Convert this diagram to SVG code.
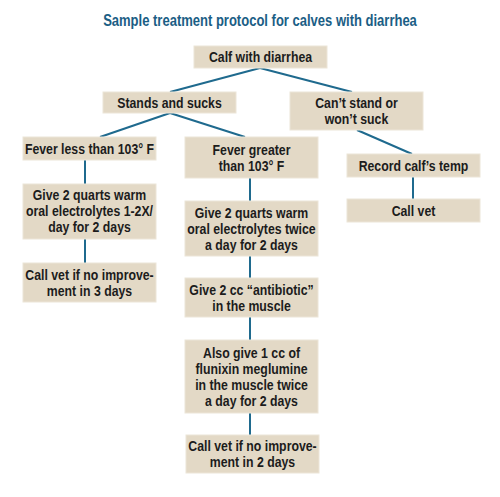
<svg xmlns="http://www.w3.org/2000/svg" width="500" height="497" viewBox="0 0 500 497">
<style>
.bg{fill:#ffffff}
.box{fill:#e3d9c6;stroke:#ece5d8;stroke-width:1}
.t{font-family:"Liberation Sans",Arial,sans-serif;font-weight:bold;font-size:15px;fill:#1c1c1c;text-anchor:middle}
.title{font-family:"Liberation Sans",Arial,sans-serif;font-weight:bold;font-size:17px;fill:#1b5e85;text-anchor:middle}
.c line{stroke:#1f6a8e;stroke-width:2;fill:none}
</style>
<rect class="bg" x="0" y="0" width="500" height="497"/>
<g id="title" transform="translate(260 0) scale(0.766 1)"><text class="title" x="0" y="26">Sample treatment protocol for calves with diarrhea</text></g>
<g id="connectors" class="c">
<line x1="260" y1="68" x2="170" y2="92"/>
<line x1="260" y1="68" x2="352" y2="92"/>
<line x1="170" y1="113" x2="100" y2="137"/>
<line x1="170" y1="113" x2="245" y2="137"/>
<line x1="357" y1="130" x2="412" y2="154"/>
<line x1="85" y1="160" x2="85" y2="184"/>
<line x1="85" y1="239" x2="85" y2="263"/>
<line x1="250" y1="178" x2="250" y2="201"/>
<line x1="250" y1="256" x2="250" y2="278"/>
<line x1="250" y1="317" x2="250" y2="340"/>
<line x1="250" y1="413" x2="250" y2="435"/>
<line x1="413" y1="177" x2="413" y2="199"/>
</g>
<g id="calf"><rect class="box" x="194" y="46" width="133" height="22"/>
<g transform="translate(260.5 0) scale(0.82 1)"><text class="t" x="0" y="62.5">Calf with diarrhea</text></g></g>
<g id="stands"><rect class="box" x="103" y="92" width="133" height="21"/>
<g transform="translate(169.5 0) scale(0.82 1)"><text class="t" x="0" y="108">Stands and sucks</text></g></g>
<g id="cant"><rect class="box" x="290" y="92" width="133" height="38"/>
<g transform="translate(356.5 0) scale(0.82 1)"><text class="t" x="0" y="108">Can’t stand or</text><text class="t" x="0" y="124">won’t suck</text></g></g>
<g id="feverless"><rect class="box" x="23" y="137" width="133" height="23"/>
<g transform="translate(89.5 0) scale(0.82 1)"><text class="t" x="0" y="154">Fever less than 103° F</text></g></g>
<g id="give-left"><rect class="box" x="23" y="184" width="133" height="55"/>
<g transform="translate(89.5 0) scale(0.82 1)"><text class="t" x="0" y="200.5">Give 2 quarts warm</text><text class="t" x="0" y="216.5">oral electrolytes 1-2X/</text><text class="t" x="0" y="232.5">day for 2 days</text></g></g>
<g id="callvet3"><rect class="box" x="23" y="263" width="133" height="39"/>
<g transform="translate(89.5 0) scale(0.82 1)"><text class="t" x="0" y="280">Call vet if no improve-</text><text class="t" x="0" y="296">ment in 3 days</text></g></g>
<g id="fevergreater"><rect class="box" x="185" y="137" width="133" height="41"/>
<g transform="translate(251.5 0) scale(0.82 1)"><text class="t" x="0" y="155">Fever greater</text><text class="t" x="0" y="171">than 103° F</text></g></g>
<g id="give-mid"><rect class="box" x="185" y="201" width="133" height="55"/>
<g transform="translate(251.5 0) scale(0.82 1)"><text class="t" x="0" y="218">Give 2 quarts warm</text><text class="t" x="0" y="234">oral electrolytes twice</text><text class="t" x="0" y="250">a day for 2 days</text></g></g>
<g id="antibiotic"><rect class="box" x="185" y="278" width="133" height="39"/>
<g transform="translate(251.5 0) scale(0.82 1)"><text class="t" x="0" y="295">Give 2 cc “antibiotic”</text><text class="t" x="0" y="311">in the muscle</text></g></g>
<g id="flunixin"><rect class="box" x="185" y="340" width="133" height="73"/>
<g transform="translate(251.5 0) scale(0.82 1)"><text class="t" x="0" y="358">Also give 1 cc of</text><text class="t" x="0" y="374">flunixin meglumine</text><text class="t" x="0" y="390">in the muscle twice</text><text class="t" x="0" y="406">a day for 2 days</text></g></g>
<g id="callvet2"><rect class="box" x="186" y="435" width="133" height="38"/>
<g transform="translate(252.5 0) scale(0.82 1)"><text class="t" x="0" y="451.5">Call vet if no improve-</text><text class="t" x="0" y="467.5">ment in 2 days</text></g></g>
<g id="record"><rect class="box" x="347" y="154" width="133" height="23"/>
<g transform="translate(413.5 0) scale(0.82 1)"><text class="t" x="0" y="171">Record calf’s temp</text></g></g>
<g id="callvet"><rect class="box" x="347" y="199" width="133" height="23"/>
<g transform="translate(413.5 0) scale(0.82 1)"><text class="t" x="0" y="216">Call vet</text></g></g>
</svg>
